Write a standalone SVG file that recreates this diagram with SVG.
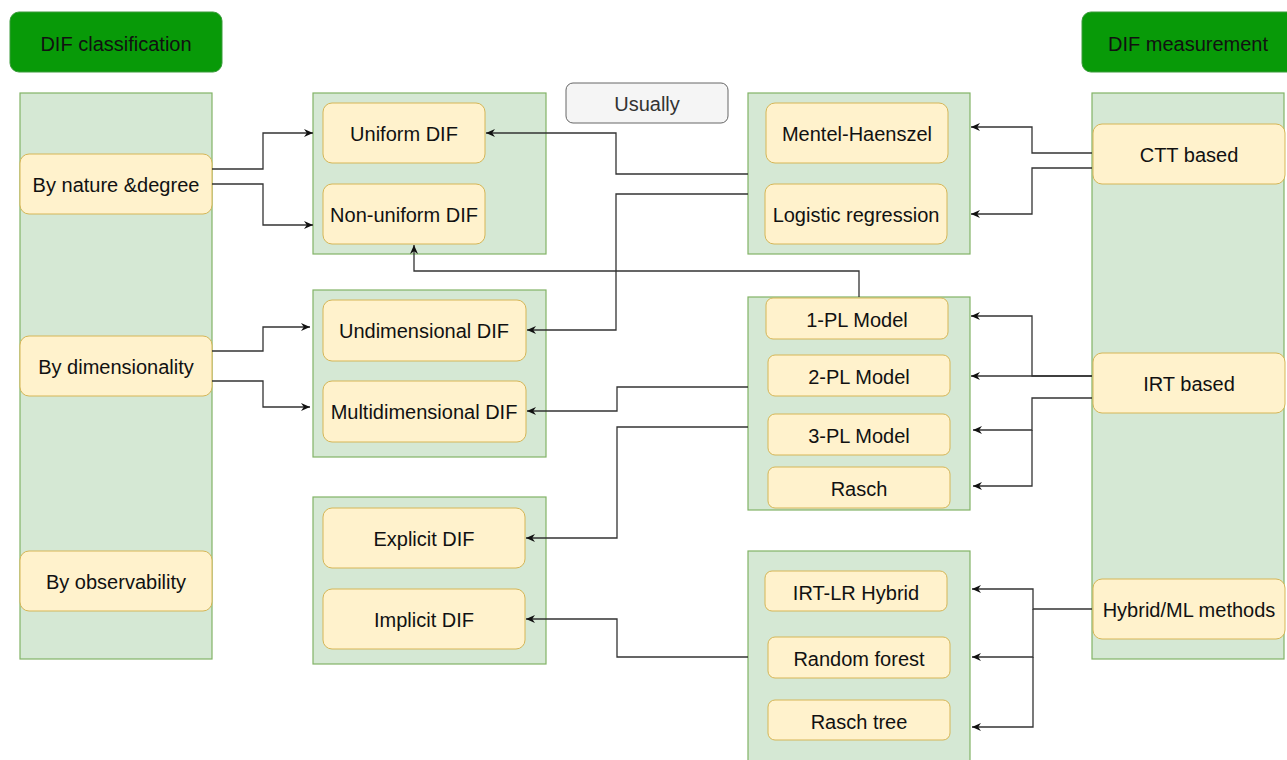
<svg xmlns="http://www.w3.org/2000/svg" width="1287" height="760" viewBox="0 0 1287 760">
<style>
.hdr{fill:#089a08;stroke:#3a9b3a;stroke-width:1}
.col{fill:#d5e8d4;stroke:#82b366;stroke-width:1.2}
.nd{fill:#fff2cc;stroke:#d6b656;stroke-width:1}
.note{fill:#f5f5f5;stroke:#666666;stroke-width:1}
text{font-family:"Liberation Sans",Arial,sans-serif;font-size:20px;fill:#111111;text-anchor:middle;dominant-baseline:central}
.nt{fill:#333333}
.e{fill:none;stroke:#333333;stroke-width:1.3}
</style>
<defs>
<marker id="ar" markerUnits="userSpaceOnUse" markerWidth="11" markerHeight="10" refX="9" refY="4.5" orient="auto">
<path d="M0,0.5 L9,4.5 L0,8.5 L2.8,4.5 Z" fill="#111111"/>
</marker>
</defs>

<g id="hdr-left"><rect class="hdr" x="10" y="12" width="212" height="60" rx="9"/><text x="116" y="44">DIF classification</text></g>
<g id="hdr-right"><rect class="hdr" x="1082" y="12" width="215" height="60" rx="9"/><text x="1188" y="44">DIF measurement</text></g>

<g id="col-left"><rect class="col" x="20" y="93" width="192" height="566"/></g>
<g id="col-right"><rect class="col" x="1092" y="93" width="192" height="566"/></g>

<g id="grp-nature"><rect class="col" x="313" y="93" width="233" height="161"/></g>
<g id="grp-dim"><rect class="col" x="313" y="290" width="233" height="167"/></g>
<g id="grp-obs"><rect class="col" x="313" y="497" width="233" height="167"/></g>
<g id="grp-ctt"><rect class="col" x="748" y="93" width="222" height="161"/></g>
<g id="grp-irt"><rect class="col" x="748" y="297" width="222" height="213"/></g>
<g id="grp-hyb"><rect class="col" x="748" y="551" width="222" height="215"/></g>

<g id="n-nature"><rect class="nd" x="20" y="154" width="192" height="60" rx="9"/><text x="116" y="185">By nature &amp;degree</text></g>
<g id="n-dim"><rect class="nd" x="20" y="336" width="192" height="60" rx="9"/><text x="116" y="367">By dimensionality</text></g>
<g id="n-obs"><rect class="nd" x="20" y="551" width="192" height="60" rx="9"/><text x="116" y="582">By observability</text></g>

<g id="n-uniform"><rect class="nd" x="323" y="103" width="162" height="60" rx="9"/><text x="404" y="134">Uniform DIF</text></g>
<g id="n-nonuniform"><rect class="nd" x="323" y="184" width="162" height="60" rx="9"/><text x="404" y="215">Non-uniform DIF</text></g>
<g id="n-undim"><rect class="nd" x="323" y="300" width="203" height="61" rx="9"/><text x="424" y="331">Undimensional DIF</text></g>
<g id="n-multidim"><rect class="nd" x="323" y="381" width="203" height="61" rx="9"/><text x="424" y="412">Multidimensional DIF</text></g>
<g id="n-explicit"><rect class="nd" x="323" y="508" width="202" height="60" rx="9"/><text x="424" y="539">Explicit DIF</text></g>
<g id="n-implicit"><rect class="nd" x="323" y="589" width="202" height="60" rx="9"/><text x="424" y="620">Implicit DIF</text></g>

<g id="n-usually"><rect class="note" x="566" y="83" width="162" height="40" rx="7"/><text class="nt" x="647" y="104">Usually</text></g>

<g id="n-mh"><rect class="nd" x="766" y="103" width="182" height="60" rx="9"/><text x="857" y="134">Mentel-Haenszel</text></g>
<g id="n-lr"><rect class="nd" x="765" y="184" width="182" height="60" rx="9"/><text x="856" y="215">Logistic regression</text></g>
<g id="n-1pl"><rect class="nd" x="766" y="298" width="182" height="41" rx="7"/><text x="857" y="320">1-PL Model</text></g>
<g id="n-2pl"><rect class="nd" x="768" y="355" width="182" height="41" rx="7"/><text x="859" y="377">2-PL Model</text></g>
<g id="n-3pl"><rect class="nd" x="768" y="414" width="182" height="41" rx="7"/><text x="859" y="436">3-PL Model</text></g>
<g id="n-rasch"><rect class="nd" x="768" y="467" width="182" height="41" rx="7"/><text x="859" y="489">Rasch</text></g>
<g id="n-irtlr"><rect class="nd" x="765" y="571" width="182" height="40" rx="7"/><text x="856" y="593">IRT-LR Hybrid</text></g>
<g id="n-rf"><rect class="nd" x="768" y="637" width="182" height="41" rx="7"/><text x="859" y="659">Random forest</text></g>
<g id="n-rtree"><rect class="nd" x="768" y="700" width="182" height="40" rx="7"/><text x="859" y="722">Rasch tree</text></g>

<g id="n-ctt"><rect class="nd" x="1093" y="124" width="192" height="60" rx="9"/><text x="1189" y="155">CTT based</text></g>
<g id="n-irt"><rect class="nd" x="1093" y="353" width="192" height="60" rx="9"/><text x="1189" y="384">IRT based</text></g>
<g id="n-hybrid"><rect class="nd" x="1093" y="579" width="192" height="60" rx="9"/><text x="1189" y="610">Hybrid/ML methods</text></g>

<g id="connectors">
<path class="e" d="M212,169 H263 V133 H313" marker-end="url(#ar)"/>
<path class="e" d="M212,184 H263 V225 H313" marker-end="url(#ar)"/>
<path class="e" d="M212,351 H263 V327 H310" marker-end="url(#ar)"/>
<path class="e" d="M212,381 H263 V407 H310" marker-end="url(#ar)"/>
<path class="e" d="M748,174 H616 V133 H486" marker-end="url(#ar)"/>
<path class="e" d="M748,194 H616 V330 H527" marker-end="url(#ar)"/>
<path class="e" d="M859,297 V271 H414 V245" marker-end="url(#ar)"/>
<path class="e" d="M748,387 H617 V411 H527" marker-end="url(#ar)"/>
<path class="e" d="M748,427 H617 V538 H526" marker-end="url(#ar)"/>
<path class="e" d="M748,657 H617 V619 H526" marker-end="url(#ar)"/>
<path class="e" d="M1092,153 H1032 V127 H971" marker-end="url(#ar)"/>
<path class="e" d="M1092,168 H1032 V214 H971" marker-end="url(#ar)"/>
<path class="e" d="M1092,376 H1032 V316 H971" marker-end="url(#ar)"/>
<path class="e" d="M1092,376 H971" marker-end="url(#ar)"/>
<path class="e" d="M1092,398 H1032 V430 H973" marker-end="url(#ar)"/>
<path class="e" d="M1032,430 V486 H973" marker-end="url(#ar)"/>
<path class="e" d="M1092,609 H1033 V589 H972" marker-end="url(#ar)"/>
<path class="e" d="M1033,609 V657 H972" marker-end="url(#ar)"/>
<path class="e" d="M1033,657 V727 H972" marker-end="url(#ar)"/>
</g>
</svg>
